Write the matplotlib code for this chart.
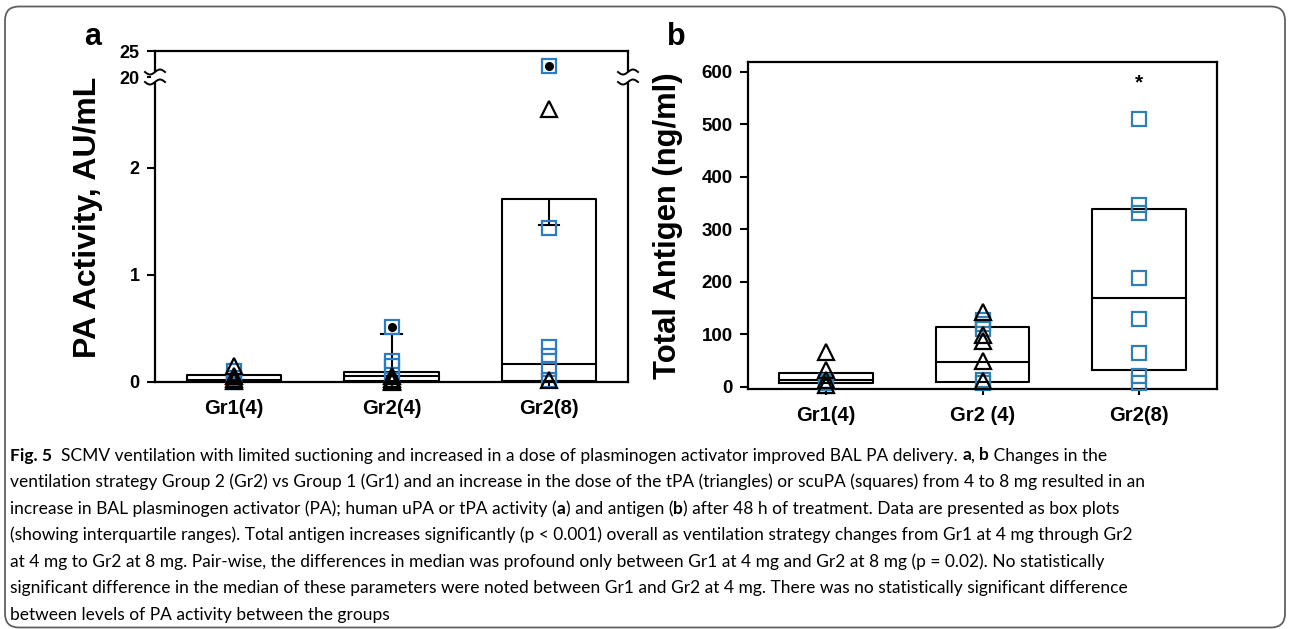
import numpy as np
import matplotlib
matplotlib.use('Agg')
import matplotlib.pyplot as plt
from matplotlib import font_manager
from matplotlib.patches import FancyBboxPatch, Rectangle
from matplotlib.transforms import IdentityTransform

W, H = 1290, 629

# ---- data -------------------------------------------------------------
groups_a = ['Gr1(4)', 'Gr2(4)', 'Gr2(8)']
groups_b = ['Gr1(4)', 'Gr2 (4)', 'Gr2(8)']

# panel a: PA activity, AU/mL (box stats + points)
a_q1 = [0.005, 0.01, 0.01]
a_med = [0.02, 0.055, 0.17]
a_q3 = [0.065, 0.09, 1.71]
a_whishi = [0.065, 0.45, 1.47]
a_tri = [[0.15, 0.06, 0.03, 0.01], [0.06, 0.03, 0.01, 0.0], [2.55, 0.02]]
a_sq = [[0.10, 0.04, 0.01, 0.0], [0.51, 0.20, 0.15, 0.02],
        [22.1, 1.44, 0.33, 0.24, 0.12, 0.02]]
a_outlier = [[], [0.51], [22.1]]

# panel b: total antigen, ng/ml
b_q1 = [7, 10, 32]
b_med = [13, 48, 170]
b_q3 = [27, 114, 339]
b_tri = [[67, 33, 14, 4], [143, 98, 88, 50, 12], []]
b_sq = [[12, 8, 2], [128, 120, 110, 14, 8], [510, 347, 331, 207, 129, 65, 20, 8]]
b_star = 579

# broken axis for panel a
BRK_LO, BRK_HI = 2.85, 20.0
K = 0.0486

BLUE_A = '#2a7cc4'
BLUE_B = '#2e7fb2'


def fwd(v):
    v = np.asarray(v, float)
    return np.where(v <= BRK_LO, v,
                    np.where(v >= BRK_HI, BRK_LO + (v - BRK_HI) * K, BRK_LO))


def inv(u):
    u = np.asarray(u, float)
    return np.where(u <= BRK_LO, u, BRK_HI + (u - BRK_LO) / K)


def box_stats(q1, med, q3, whishi):
    return [dict(q1=a, med=m, q3=c, whislo=a, whishi=w, fliers=[])
            for a, m, c, w in zip(q1, med, q3, whishi)]


def draw_points(ax, tri, sq, blue, ms_sq, ms_tri):
    for i, (t, s) in enumerate(zip(tri, sq)):
        x = i + 1
        if s:
            ax.plot([x] * len(s), s, ls='none', marker='s', mfc='none', mec=blue,
                    ms=ms_sq, mew=1.6, clip_on=False, zorder=4)
        if t:
            ax.plot([x] * len(t), t, ls='none', marker='^', mfc='none', mec='black',
                    ms=ms_tri, mew=1.6, clip_on=False, zorder=5)


def style_axes(ax, labels, ysize, xsize):
    ax.set_xlim(0.5, 3.5)
    ax.set_xticks([1, 2, 3])
    ax.set_xticklabels(labels)
    for sp in ax.spines.values():
        sp.set_linewidth(1.6)
    ax.tick_params(axis='y', direction='out', length=6, width=1.5, pad=5)
    ax.tick_params(axis='x', direction='out', length=4, width=1.5, pad=8)
    for lbl in ax.get_yticklabels():
        lbl.set_fontweight('bold')
        lbl.set_fontsize(ysize)
    for lbl in ax.get_xticklabels():
        lbl.set_fontweight('bold')
        lbl.set_fontsize(xsize)


plt.rcParams['font.family'] = ['Liberation Sans', 'DejaVu Sans']

fig = plt.figure(figsize=(W / 100, H / 100), dpi=100)

# ---- panel a ------------------------------------------------------------
ax_a = fig.add_axes([155 / W, 1 - 382 / H, 473 / W, 331 / H])
ax_a.set_yscale('function', functions=(fwd, inv))
ax_a.set_ylim(0, 25)
ax_a.set_yticks([0, 1, 2, 20, 25])
ax_a.set_yticklabels(['0', '1', '2', '20', '25'])
ax_a.bxp(box_stats(a_q1, a_med, a_q3, a_whishi), positions=[1, 2, 3], widths=0.6,
         capwidths=0.13, showfliers=False, patch_artist=False,
         boxprops=dict(color='black', lw=1.5), medianprops=dict(color='black', lw=1.5),
         whiskerprops=dict(color='black', lw=1.5), capprops=dict(color='black', lw=1.5))
draw_points(ax_a, a_tri, a_sq, BLUE_A, 10, 12)
for i, vals in enumerate(a_outlier):
    if vals:
        ax_a.plot([i + 1] * len(vals), vals, ls='none', marker='o', color='black',
                  ms=5.5, zorder=6)
style_axes(ax_a, groups_a, 13, 14.5)

# axis break marks on both side spines
brk = float(fwd(BRK_HI) / fwd(25))
t = np.linspace(-1, 1, 40)
for xs in (0.0, 1.0):
    ax_a.add_patch(Rectangle((xs - 4 / 473, brk - 5 / 331), 8 / 473, 10 / 331,
                             transform=ax_a.transAxes, color='white', clip_on=False,
                             zorder=7, lw=0))
    for dy in (-5 / 331, 5 / 331):
        ax_a.plot(xs + t * 10 / 473, brk + dy + np.sin(np.pi * t) * 2.5 / 331,
                  transform=ax_a.transAxes, color='black', lw=1.4, clip_on=False,
                  zorder=8)

fig.text(88 / W, 1 - 217 / H, 'PA Activity, AU/mL', rotation=90, ha='center',
         va='center', fontsize=23, fontweight='bold')
fig.text(93 / W, 1 - 37 / H, 'a', ha='center', va='center', fontsize=22,
         fontweight='bold')

# ---- panel b ------------------------------------------------------------
ax_b = fig.add_axes([748 / W, 1 - 389 / H, 469 / W, 327 / H])
ax_b.set_ylim(-4, 619)
ax_b.set_yticks([0, 100, 200, 300, 400, 500, 600])
ax_b.bxp(box_stats(b_q1, b_med, b_q3, b_q3), positions=[1, 2, 3], widths=0.6,
         showcaps=False, showfliers=False,
         boxprops=dict(color='black', lw=1.5), medianprops=dict(color='black', lw=1.5),
         whiskerprops=dict(color='black', lw=1.5))
draw_points(ax_b, b_tri, b_sq, BLUE_B, 9.5, 11.5)
ax_b.text(3, b_star, '*', ha='center', va='center', fontsize=15, fontweight='bold')
style_axes(ax_b, groups_b, 13.5, 14.5)

fig.text(668 / W, 1 - 226 / H, 'Total Antigen (ng/ml)', rotation=90, ha='center',
         va='center', fontsize=22.3, fontweight='bold')
fig.text(676 / W, 1 - 37 / H, 'b', ha='center', va='center', fontsize=22,
         fontweight='bold')

# ---- caption ------------------------------------------------------------
names = {f.name for f in font_manager.fontManager.ttflist}
cap_family = ['Liberation Sans Narrow' if 'Liberation Sans Narrow' in names else 'Lato',
              'DejaVu Sans']

N, B = 'normal', 'bold'
caption = [
    [('Fig. 5', B), ('  SCMV ventilation with limited suctioning and increased in a dose of '
                     'plasminogen activator improved BAL PA delivery. ', N),
     ('a', B), (', ', N), ('b', B), (' Changes in the', N)],
    [('ventilation strategy Group 2 (Gr2) vs Group 1 (Gr1) and an increase in the dose of '
      'the tPA (triangles) or scuPA (squares) from 4 to 8 mg resulted in an', N)],
    [('increase in BAL plasminogen activator (PA); human uPA or tPA activity (', N), ('a', B),
     (') and antigen (', N), ('b', B),
     (') after 48 h of treatment. Data are presented as box plots', N)],
    [('(showing interquartile ranges). Total antigen increases significantly (p < 0.001) '
      'overall as ventilation strategy changes from Gr1 at 4 mg through Gr2', N)],
    [('at 4 mg to Gr2 at 8 mg. Pair-wise, the differences in median was profound only '
      'between Gr1 at 4 mg and Gr2 at 8 mg (p = 0.02). No statistically', N)],
    [('significant difference in the median of these parameters were noted between Gr1 '
      'and Gr2 at 4 mg. There was no statistically significant difference', N)],
    [('between levels of PA activity between the groups', N)],
]

renderer = fig.canvas.get_renderer()


def text_width(s, size, weight):
    t1 = fig.text(0, 0, '|' + s + '|', fontsize=size, fontweight=weight, family=cap_family)
    t2 = fig.text(0, 0, '||', fontsize=size, fontweight=weight, family=cap_family)
    w = t1.get_window_extent(renderer).width - t2.get_window_extent(renderer).width
    t1.remove()
    t2.remove()
    return w


cap_size = 10 * 1133 / text_width(caption[1][0][0], 10, N)

for i, line in enumerate(caption):
    x = 10
    y = 460.5 + 26.6 * i
    for s, weight in line:
        fig.text(x / W, 1 - y / H, s, fontsize=cap_size, fontweight=weight,
                 family=cap_family, ha='left', va='baseline')
        x += text_width(s, cap_size, weight)

# rounded frame round the whole figure
fig.add_artist(FancyBboxPatch((5, 1.5), 1280, 621, boxstyle='round,pad=0,rounding_size=14',
                              transform=IdentityTransform(), fill=False,
                              edgecolor='#606060', lw=1.3))

fig.savefig('out.png', dpi=100)
